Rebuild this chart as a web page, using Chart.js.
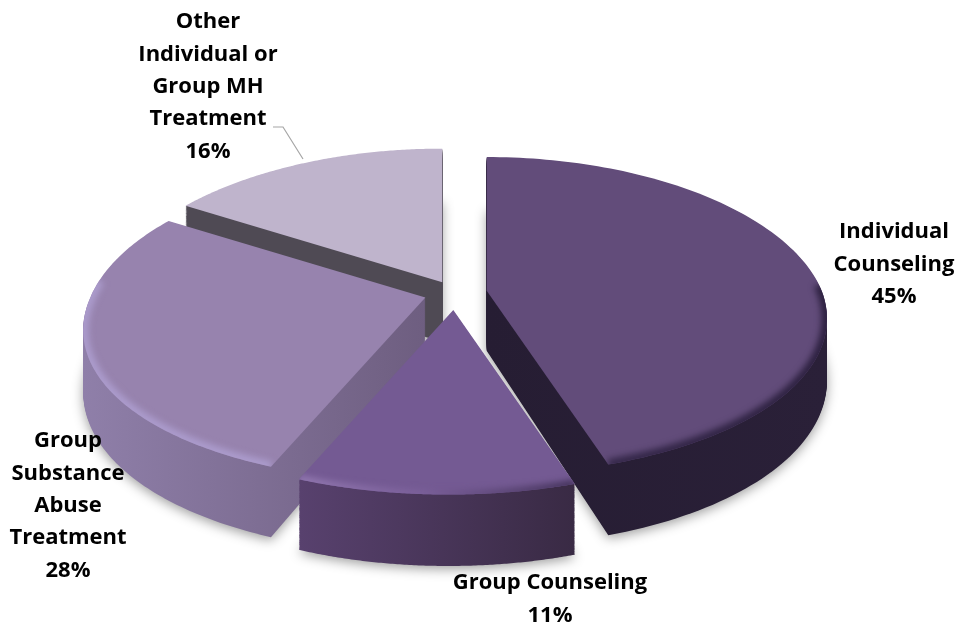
<!DOCTYPE html>
<html>
<head>
<meta charset="utf-8">
<title>Treatment type</title>
<style>
  html, body { margin: 0; padding: 0; background: #fff; }
  canvas { display: block; }
</style>
<script src="https://cdn.jsdelivr.net/npm/chart.js@4"></script>
</head>
<body>
<canvas id="pie" width="957" height="628"></canvas>
<script>
const categories = ['Individual Counseling', 'Group Counseling', 'Group Substance Abuse Treatment', 'Other Individual or Group MH Treatment'];
const shares = [45, 11, 28, 16];
const labelLines = [
  ['Individual', 'Counseling'],
  ['Group Counseling'],
  ['Group', 'Substance', 'Abuse', 'Treatment'],
  ['Other', 'Individual or', 'Group MH', 'Treatment'],
];

// ── Styles ────────────────────────────────────────────────
const RADIUS = 250;
const explode = [24, 27, 23, 20];
const topColors = ['#624c7a', '#745a93', '#9783ae', '#bfb4cc'];
const rimColors = [['#261d33', '#2a2038'], ['#58416e', '#392a44'], ['#8f7fa9', '#6e5e80'], ['#4f4a54', '#4f4a54']];
const bevels = [
  { vMin: -0.05, width: 11, stops: [[0, '#3a2c50'], [1, '#2d2140']] },
  { vMin: 0, width: 9, stops: [[0, '#9278b0'], [0.45, '#7a5f99'], [1, '#43325a']] },
  { vMin: -0.12, width: 11, stops: [[0, '#ab9bcc'], [0.7, '#ab9bcc'], [0.9, '#bcaddf'], [1, '#a494c4']] },
  null,
];
const drawOrder = [3, 0, 2, 1];
const labelPos = [[208, 22], [894, 232], [550, 583], [68, 441]];
const labelSlice = [3, 0, 1, 2];
const LINE_H = 32.4;
const leaderLine = [[273, 127], [283, 127], [303, 159]];

// projection du disque
const view = { cx: 455, cy: 293, rx: 335, ry: 155, kx: 0.19, ky: 0.16, shear: 5, depth: 60 };

function project(u, v, down) {
  const wx = 1 / (1 - view.kx * v);
  const wy = 1 / (1 - view.ky * v);
  const lean = v > 0 ? view.shear * v : 0;
  return [view.rx * u * wx - lean, (view.ry * v + down) * wy];
}

function tracePoints(arc, down) {
  const { startAngle, endAngle, outerRadius, options } = arc;
  const mid = (startAngle + endAngle) / 2;
  const d = options.offset / outerRadius;
  const o = project(Math.cos(mid) * d, Math.sin(mid) * d, 0);
  const ax = view.cx + o[0], ay = view.cy + o[1];
  const pts = [[ax, ay + down]];
  const outer = [];
  const steps = 120;
  for (let i = 0; i <= steps; i++) {
    const a = startAngle + (endAngle - startAngle) * i / steps;
    const v = Math.sin(a);
    const q = project(Math.cos(a), v, down);
    const p = [ax + q[0], ay + q[1]];
    pts.push(p);
    outer.push({ p, v });
  }
  return { pts, outer };
}

function fillPoly(ctx, pts) {
  ctx.beginPath();
  pts.forEach((p, i) => i ? ctx.lineTo(p[0], p[1]) : ctx.moveTo(p[0], p[1]));
  ctx.closePath();
  ctx.fill();
}

function hGradient(ctx, pts, stops) {
  const xs = pts.map(p => p[0]);
  const g = ctx.createLinearGradient(Math.min(...xs), 0, Math.max(...xs), 0);
  stops.forEach(s => g.addColorStop(s[0], s[1]));
  return g;
}

const pie3d = {
  id: 'pie3d',
  // on remplace le dessin à plat des arcs par la version en relief
  beforeDatasetsDraw(chart) {
    const ctx = chart.ctx;
    const arcs = chart.getDatasetMeta(0).data;
    for (const i of drawOrder) {
      const arc = arcs[i];
      const top = tracePoints(arc, 0);
      const rim = hGradient(ctx, top.pts, [[0, rimColors[i][0]], [1, rimColors[i][1]]]);

      ctx.save();
      ctx.shadowColor = 'rgba(0,0,0,0.38)';
      ctx.shadowBlur = 12;
      ctx.shadowOffsetY = 3;
      ctx.fillStyle = rim;
      fillPoly(ctx, tracePoints(arc, view.depth).pts);
      ctx.restore();

      ctx.fillStyle = rim;
      for (let t = view.depth - 1; t > 0; t--) fillPoly(ctx, tracePoints(arc, t).pts);

      ctx.fillStyle = topColors[i];
      fillPoly(ctx, top.pts);

      const bevel = bevels[i];
      if (bevel) {
        ctx.save();
        ctx.beginPath();
        top.pts.forEach((p, n) => n ? ctx.lineTo(p[0], p[1]) : ctx.moveTo(p[0], p[1]));
        ctx.closePath();
        ctx.clip();
        ctx.filter = 'blur(3px)';
        ctx.strokeStyle = hGradient(ctx, top.pts, bevel.stops);
        ctx.lineWidth = bevel.width;
        ctx.beginPath();
        top.outer.filter(o => o.v > bevel.vMin).forEach((o, n) => n ? ctx.lineTo(o.p[0], o.p[1]) : ctx.moveTo(o.p[0], o.p[1]));
        ctx.stroke();
        ctx.restore();
      }
    }
    return false;
  },
  afterDraw(chart) {
    const ctx = chart.ctx;
    ctx.save();
    ctx.strokeStyle = '#a6a6a6';
    ctx.lineWidth = 1.2;
    ctx.beginPath();
    leaderLine.forEach((p, n) => n ? ctx.lineTo(p[0], p[1]) : ctx.moveTo(p[0], p[1]));
    ctx.stroke();

    ctx.fillStyle = '#000';
    ctx.font = 'bold 22px "Open Sans", sans-serif';
    ctx.textAlign = 'center';
    ctx.textBaseline = 'middle';
    labelPos.forEach(([x, y], n) => {
      const i = labelSlice[n];
      [...labelLines[i], shares[i] + '%'].forEach((txt, row) => ctx.fillText(txt, x, y + row * LINE_H));
    });
    ctx.restore();
  },
};

new Chart(document.getElementById('pie'), {
  type: 'pie',
  data: {
    labels: categories,
    datasets: [{ data: shares, backgroundColor: topColors, offset: explode, borderWidth: 0 }],
  },
  options: {
    responsive: false,
    animation: false,
    radius: RADIUS,
    plugins: { legend: { display: false }, tooltip: { enabled: false } },
  },
  plugins: [pie3d],
});
</script>
</body>
</html>
